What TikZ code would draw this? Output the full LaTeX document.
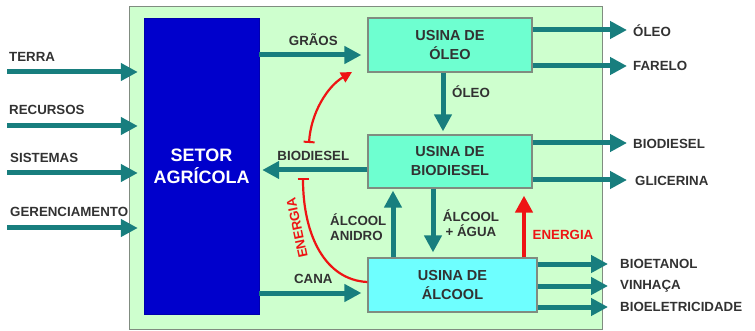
\documentclass[tikz,border=0pt]{standalone}
\usepackage{fontspec}
\setmainfont{Liberation Sans}
\usetikzlibrary{arrows.meta}
\definecolor{seta}{RGB}{24,126,126}
\definecolor{fundo}{RGB}{206,255,206}
\definecolor{azul}{RGB}{0,0,204}
\definecolor{verdeag}{RGB}{110,255,208}
\definecolor{ciano}{RGB}{110,255,255}
\definecolor{borda}{RGB}{128,140,128}
\definecolor{txt}{RGB}{50,50,50}
\definecolor{verm}{RGB}{238,20,20}

\begin{document}
\begin{tikzpicture}[x=1pt, y=-1pt,
    every node/.style={font=\bfseries\fontsize{13.3}{15}\selectfont, text=txt, inner sep=0pt},
    bg/.style={rectangle, draw=borda, fill=fundo, line width=0.8pt,
               minimum width=473pt, minimum height=323pt},
    setor/.style={rectangle, fill=azul, draw=azul!85!black, minimum width=115pt,
                  minimum height=296pt, text=white, align=center,
                  font=\bfseries\fontsize{18}{22}\selectfont},
    usina/.style={rectangle, draw=borda, line width=1.2pt, fill=verdeag,
                  minimum width=164pt, minimum height=54pt, align=center,
                  font=\bfseries\fontsize{14.5}{19}\selectfont},
    e/.style={draw=seta, line width=5pt, -{Triangle[length=17pt, width=17pt]}},
    er/.style={draw=verm, line width=4.5pt, -{Triangle[length=17pt, width=17pt]}},
    ec/.style={draw=verm, line width=2.2pt,
               {Bar[width=11pt, line width=2pt]}-{Triangle[length=11pt, width=11pt]}},
    ecb/.style={draw=verm, line width=2.2pt, -{Bar[width=11pt, line width=2pt]}},
    lbl/.style={anchor=west},
    lred/.style={text=verm},
  ]
  \useasboundingbox (0,0) rectangle (755,331);
  \node[bg] (fundo) at (365.5,167.5) {};
  \node[setor] (setor) at (201.5,166) {SETOR\\AGRÍCOLA};
  \node[usina] (oleo) at (450,45) {USINA DE\\ÓLEO};
  \node[usina, minimum height=53pt] (biodiesel) at (450,161.5) {USINA DE\\BIODIESEL};
  \node[usina, fill=ciano, minimum width=169pt] (alcool) at (452.5,285) {USINA DE\\ÁLCOOL};

  % entradas
  \node[lbl] (terra) at (9,57) {TERRA};
  \node[lbl] (recursos) at (9,110) {RECURSOS};
  \node[lbl] (sistemas) at (10,157.5) {SISTEMAS};
  \node[lbl] (gerenc) at (10,212) {GERENCIAMENTO};
  \coordinate (inTerra) at (7,72);
  \coordinate (inRecursos) at (7,126);
  \coordinate (inSistemas) at (7,173);
  \coordinate (inGerenc) at (7,228);
  \draw[e, shorten >=6pt] (inTerra) -- (setor.west |- inTerra);
  \draw[e, shorten >=6pt] (inRecursos) -- (setor.west |- inRecursos);
  \draw[e, shorten >=6pt] (inSistemas) -- (setor.west |- inSistemas);
  \draw[e, shorten >=6pt] (inGerenc) -- (setor.west |- inGerenc);

  % fluxos internos
  \draw[e, shorten >=6pt] (setor.east |- 0,55) -- node[above=7pt] {GRÃOS} (oleo.west |- 0,55);
  \draw[e, shorten >=3pt] (biodiesel.west |- 0,170) -- node[above=7pt] {BIODIESEL} (setor.east |- 0,170);
  \draw[e, shorten >=6pt] (setor.east |- 0,293) -- node[above=7pt] {CANA} (alcool.west |- 0,293);
  \draw[e, shorten >=3pt] (oleo.south -| 443,0) -- (biodiesel.north -| 443,0);
  \node[lbl] (oleoMeio) at (452,92) {ÓLEO};
  \draw[e, shorten >=2pt] (alcool.north -| 393,0) -- (biodiesel.south -| 393,0);
  \draw[e, shorten >=5pt] (biodiesel.south -| 433,0) -- (alcool.north -| 433,0);
  \draw[er, shorten >=7pt] (alcool.north -| 524,0) -- (biodiesel.south -| 524,0);
  \node[anchor=west, align=left] (anidro) at (330,227) {ÁLCOOL\\ANIDRO};
  \node[align=center] (agua) at (471,223) {ÁLCOOL\\+ ÁGUA};
  \node[lred] (energia) at (563,235) {ENERGIA};

  % energia (curvas)
  \coordinate (bdTail) at (309,143);
  \coordinate (grHead) at (352,72);
  \coordinate (enTail) at (303,178);
  \draw[ec] (bdTail) .. controls (311,112) and (328,86) .. (grHead);
  \draw[ecb] ([yshift=3pt]alcool.west) .. controls (325,280) and (303,235) .. (enTail);
  \node[lred, rotate=102] (energia2) at (297,228) {ENERGIA};

  % saidas
  \node[lbl] (sOleo) at (633,31) {ÓLEO};
  \node[lbl] (sFarelo) at (633,66) {FARELO};
  \node[lbl] (sBiodiesel) at (633,144) {BIODIESEL};
  \node[lbl] (sGlicerina) at (635,181) {GLICERINA};
  \node[lbl] (sBioetanol) at (620,264) {BIOETANOL};
  \node[lbl] (sVinhaca) at (620,286) {VINHAÇA};
  \node[lbl] (sBioelet) at (620,307) {BIOELETRICIDADE};
  \draw[e, shorten >=6pt] (oleo.east |- 0,30) -- (sOleo.west |- 0,30);
  \draw[e, shorten >=6pt] (oleo.east |- 0,66) -- (sFarelo.west |- 0,66);
  \draw[e, shorten >=6pt] (biodiesel.east |- 0,143) -- (sBiodiesel.west |- 0,143);
  \draw[e, shorten >=8pt] (biodiesel.east |- 0,180) -- (sGlicerina.west |- 0,180);
  \draw[e, shorten >=12pt] (alcool.east |- 0,264) -- (sBioetanol.west |- 0,264);
  \draw[e, shorten >=12pt] (alcool.east |- 0,286) -- (sVinhaca.west |- 0,286);
  \draw[e, shorten >=12pt] (alcool.east |- 0,307) -- (sBioelet.west |- 0,307);
\end{tikzpicture}
\end{document}
